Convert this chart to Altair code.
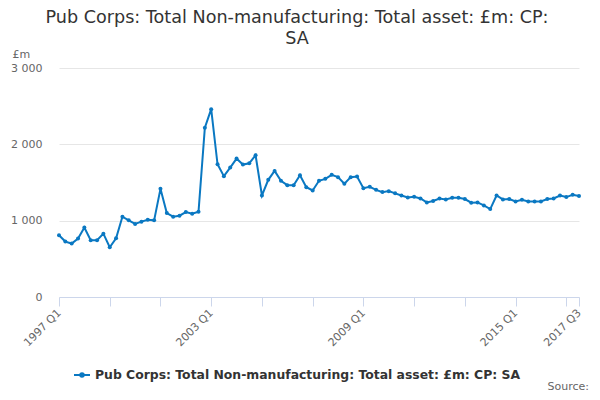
import pandas as pd
import altair as alt

# quarterly labels 1997 Q1 .. 2017 Q3
quarters = [f"{y} Q{q}" for y in range(1997, 2018) for q in range(1, 5)][:83]

total_asset = [
    809, 726, 700, 765, 909, 743, 743, 830, 652, 770,
    1052, 1004, 957, 987, 1013, 1004, 1417, 1100, 1052, 1065,
    1113, 1091, 1117, 2217, 2461, 1739, 1583, 1696, 1813, 1735,
    1752, 1857, 1330, 1535, 1652, 1522, 1465, 1465, 1596, 1439,
    1396, 1522, 1548, 1600, 1570, 1483, 1570, 1578, 1426, 1443,
    1404, 1374, 1387, 1358, 1330, 1304, 1313, 1291, 1239, 1257,
    1291, 1278, 1300, 1300, 1283, 1235, 1239, 1200, 1152, 1330,
    1278, 1283, 1252, 1274, 1252, 1252, 1252, 1283, 1291, 1330,
    1309, 1339, 1322,
]

series_name = "Pub Corps: Total Non-manufacturing: Total asset: £m: CP: SA"
tick_quarters = quarters[::8] + [quarters[-1]]
label_quarters = ["1997 Q1", "2003 Q1", "2009 Q1", "2015 Q1", "2017 Q3"]

df = pd.DataFrame({"quarter": quarters, "value": total_asset, "series": series_name})

blue = "#0a78c2"
font = "DejaVu Sans"

label_list = ",".join(f"'{q}'" for q in label_quarters)

line = alt.Chart(df).mark_line(
    strokeWidth=2,
    point=alt.OverlayMarkDef(size=16, filled=True, color=blue),
).encode(
    x=alt.X(
        "quarter:O",
        sort=None,
        scale=alt.Scale(type="point", padding=0),
        axis=alt.Axis(
            title=None,
            values=tick_quarters,
            labelExpr=f"indexof([{label_list}], datum.value) >= 0 ? datum.value : ''",
            labelAngle=-45,
            labelAlign="right",
            labelBaseline="middle",
            labelPadding=5,
            labelFontSize=11,
            labelColor="#666666",
            labelFont=font,
            domainColor="#ccd6eb",
            tickColor="#ccd6eb",
            tickSize=9,
            grid=False,
        ),
    ),
    y=alt.Y(
        "value:Q",
        scale=alt.Scale(domain=[0, 3000], nice=False),
        axis=alt.Axis(
            title="£m",
            titleAngle=0,
            titleAlign="left",
            titleBaseline="alphabetic",
            titleX=-47,
            titleY=-11,
            titleFont=font,
            titleFontSize=11,
            titleFontWeight="normal",
            titleColor="#666666",
            values=[0, 1000, 2000, 3000],
            labelExpr="replace(format(datum.value, ','), ',', ' ')",
            labelFontSize=11,
            labelColor="#666666",
            labelFont=font,
            labelPadding=17,
            domain=False,
            ticks=False,
            gridColor="#e6e6e6",
        ),
    ),
    color=alt.Color(
        "series:N",
        scale=alt.Scale(range=[blue]),
        legend=alt.Legend(
            title=None,
            orient="none",
            legendX=14,
            legendY=298,
            symbolType="M-1,0H1M0,-0.22A0.22,0.22,0,1,1,0,0.22A0.22,0.22,0,1,1,0,-0.22Z",
            symbolSize=256,
            symbolStrokeWidth=2,
            symbolFillColor=blue,
            labelFont=font,
            labelFontSize=12.4,
            labelFontWeight="bold",
            labelColor="#333333",
            labelLimit=600,
        ),
    ),
)

source = alt.Chart(pd.DataFrame({"t": ["Source:"]})).mark_text(
    align="right", baseline="alphabetic", font=font, fontSize=11, color="#666666"
).encode(text="t:N", x=alt.value(530), y=alt.value(322))

chart = alt.layer(line, source).properties(
    width=520,
    height=229,
    autosize=alt.AutoSizeParams(type="none"),
    padding={"left": 51, "top": 60, "right": 13, "bottom": 95},
    title=alt.TitleParams(
        text=["Pub Corps: Total Non-manufacturing: Total asset: £m: CP:", "SA"],
        font=font,
        fontSize=17.6,
        fontWeight="normal",
        color="#333333",
        anchor="middle",
        dx=-22,
        offset=0,
        lineHeight=21,
    ),
).configure_view(stroke=None)

chart.save("out.html", embed_options={"renderer": "svg", "actions": False})
